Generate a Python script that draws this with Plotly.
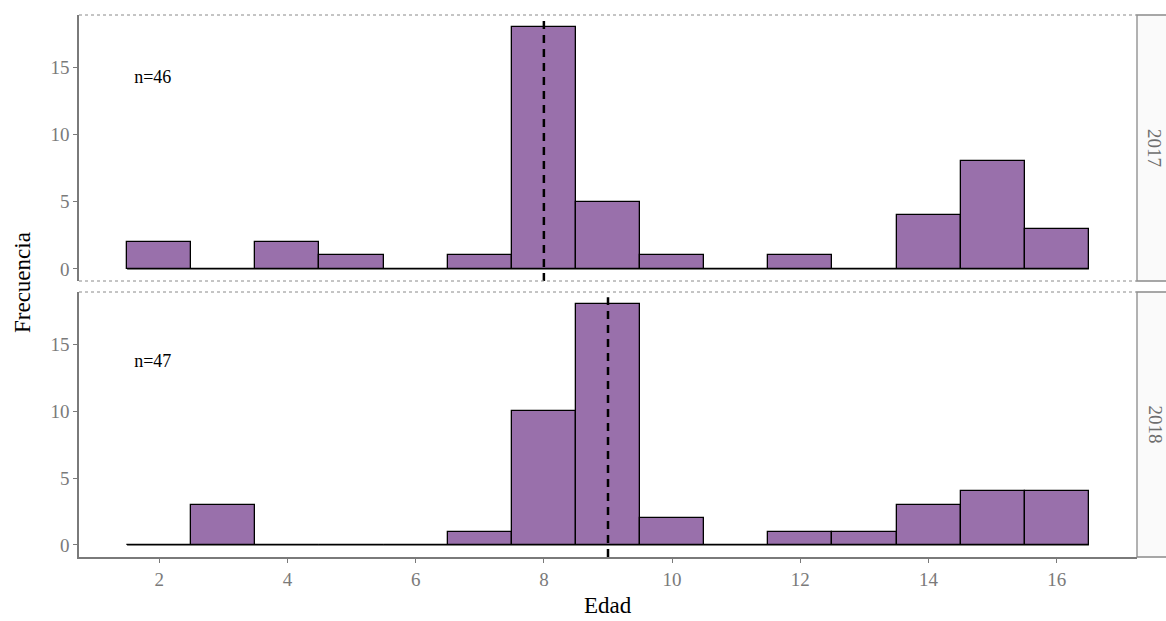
import plotly.graph_objects as go
from plotly.subplots import make_subplots

ages = list(range(2, 17))
freq_2017 = [2, 0, 2, 1, 0, 1, 18, 5, 1, 0, 1, 0, 4, 8, 3]
freq_2018 = [0, 3, 0, 0, 0, 1, 10, 18, 2, 0, 1, 1, 3, 4, 4]
years = ["2017", "2018"]
medians = [8, 9]
n_labels = ["n=46", "n=47"]
n_label_x = [1.9, 1.9]
n_label_y = [14.2, 13.6]
x_ticks = [2, 4, 6, 8, 10, 12, 14, 16]
y_ticks = [0, 5, 10, 15]

SERIF = "Liberation Serif, Times New Roman, serif"
BAR = "#9970ab"
AXIS = "#7a7a7a"
TICKTXT = "#7a7a7a"

W, H = 1166, 621
L, R, T, B = 79, 29, 15, 64
ph = H - T - B
gap = 11
h1 = 266

fig = make_subplots(rows=2, cols=1, shared_xaxes=True, vertical_spacing=0.02)

series = [freq_2017, freq_2018]
ymax_range = [-0.9, 18.9]
for i, freq in enumerate(series):
    row = i + 1
    fig.add_trace(go.Scatter(x=[ages[0] - 0.5, ages[-1] + 0.5], y=[0, 0], mode="lines",
                             line=dict(color="black", width=1.3), showlegend=False,
                             hoverinfo="skip"), row=row, col=1)
    fig.add_trace(go.Bar(x=ages, y=freq, width=1, marker=dict(color=BAR, line=dict(color="black", width=1.3)),
                         showlegend=False), row=row, col=1)
    fig.add_trace(go.Scatter(x=[medians[i], medians[i]], y=[ymax_range[0], 18.5], mode="lines",
                             line=dict(color="black", width=2.5, dash="8px,6px"), showlegend=False,
                             hoverinfo="skip"), row=row, col=1)
    fig.add_trace(go.Scatter(x=[n_label_x[i]], y=[n_label_y[i]], mode="text", text=[n_labels[i]],
                             textfont=dict(family=SERIF, size=18, color="black"), showlegend=False,
                             hoverinfo="skip"), row=row, col=1)

d2_top = (ph - h1 - gap) / ph
d1_bot = (ph - h1) / ph
tickfont = dict(family=SERIF, size=19, color=TICKTXT)
fig.update_layout(
    width=W, height=H, margin=dict(l=L, r=R, t=T, b=B),
    plot_bgcolor="white", paper_bgcolor="white", bargap=0,
    font=dict(family=SERIF),
    xaxis=dict(domain=[0, 1], range=[0.75, 17.25], showticklabels=False, ticks="", showgrid=False,
               zeroline=False, showline=False),
    xaxis2=dict(domain=[0, 1], range=[0.75, 17.25], tickvals=x_ticks, ticks="outside", ticklen=4,
                tickcolor=AXIS, tickwidth=1.3, showgrid=False, zeroline=False, showline=True,
                linecolor=AXIS, linewidth=1.5, tickfont=tickfont),
    yaxis=dict(domain=[d1_bot, 1], range=ymax_range, tickvals=y_ticks, ticks="outside", ticklen=4,
               tickcolor=AXIS, tickwidth=1.3, showgrid=False, zeroline=False, showline=True,
               linecolor=AXIS, linewidth=1.5, tickfont=tickfont),
    yaxis2=dict(domain=[0, d2_top], range=ymax_range, tickvals=y_ticks, ticks="outside", ticklen=4,
                tickcolor=AXIS, tickwidth=1.3, showgrid=False, zeroline=False, showline=True,
                linecolor=AXIS, linewidth=1.5, tickfont=tickfont),
)

shapes = []
dot = dict(color="#8a8a8a", width=1, dash="dot")
shapes.append(dict(type="line", xref="x domain", yref="y domain", x0=0, x1=1, y0=1, y1=1, line=dot))
shapes.append(dict(type="line", xref="x domain", yref="y domain", x0=0, x1=1, y0=0, y1=0, line=dot))
shapes.append(dict(type="line", xref="x2 domain", yref="y2 domain", x0=0, x1=1, y0=1, y1=1, line=dot))
strip_w = 40 / (W - L - R)
for dom in [(d1_bot, 1), (0, d2_top)]:
    shapes.append(dict(type="rect", xref="paper", yref="paper", x0=1, x1=1 + strip_w, y0=dom[0], y1=dom[1],
                       fillcolor="#fafafa", line=dict(color="#8a8a8a", width=1.3), layer="below"))
fig.update_layout(shapes=shapes)

annotations = []
for yr, dom in zip(years, [(d1_bot, 1), (0, d2_top)]):
    annotations.append(dict(xref="paper", yref="paper", x=1 + 18 / (W - L - R), y=(dom[0] + dom[1]) / 2,
                            text=yr, showarrow=False, textangle=90,
                            font=dict(family=SERIF, size=19, color="#6e6e6e"),
                            xanchor="center", yanchor="middle"))
annotations.append(dict(xref="paper", yref="paper", x=-57 / (W - L - R), y=(557 - 283) / ph, text="Frecuencia",
                        showarrow=False, textangle=-90, font=dict(family=SERIF, size=23, color="black"),
                        xanchor="center", yanchor="middle"))
annotations.append(dict(xref="paper", yref="paper", x=0.5, y=-(605 - 557) / ph, text="Edad",
                        showarrow=False, font=dict(family=SERIF, size=23, color="black"),
                        xanchor="center", yanchor="middle"))
fig.update_layout(annotations=annotations)

fig.write_html("out.html")
